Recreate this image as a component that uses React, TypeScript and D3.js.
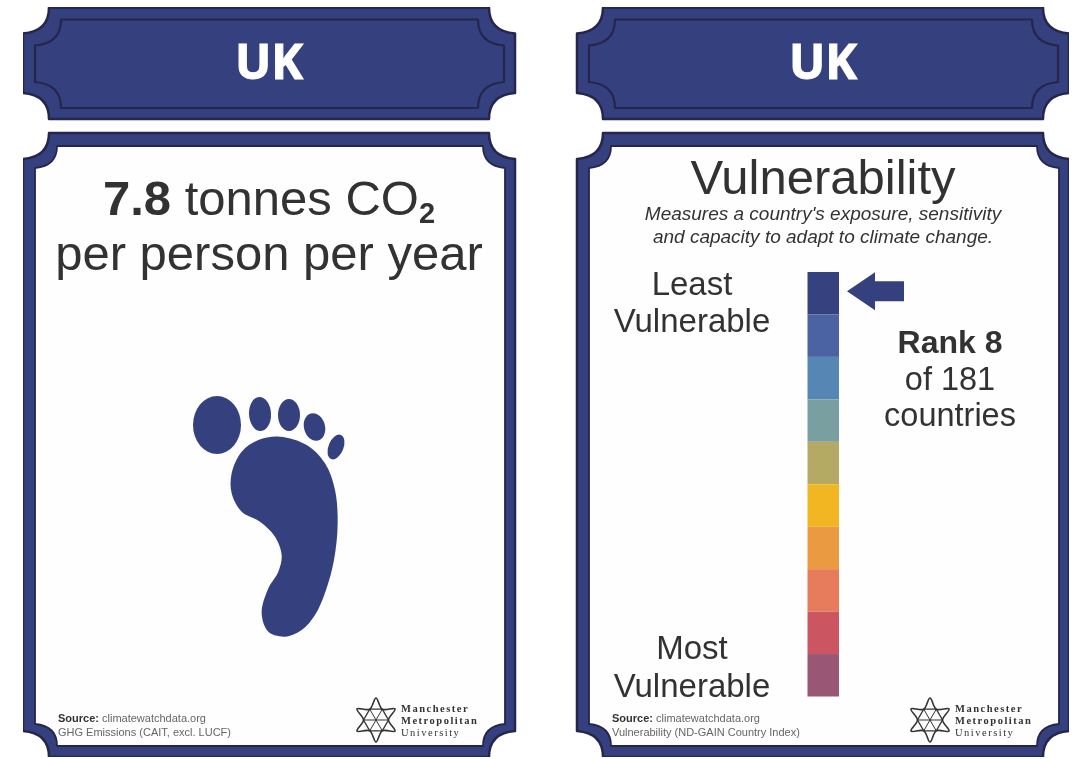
import React from "react";
import * as d3 from "d3";

const NAVY = "#36417f";
const DARK = "#25254d";
const TEXT = "#333333";

const country = "UK";
const footprintValue = "7.8";
const segments = ["#36437f", "#4c62a3", "#5787b4", "#7a9fa1", "#b5aa64", "#f2b620", "#ea9a3f", "#e77b5b", "#cc5562", "#995675"];
const rankLabel = "Rank 8";
const rankIndex = 0;
const cards = [
  { x: 0, lines: ["Source:", " climatewatchdata.org", "GHG Emissions (CAIT, excl. LUCF)"] },
  { x: 554, lines: ["Source:", " climatewatchdata.org", "Vulnerability (ND-GAIN Country Index)"] },
];
const footOutline: [number, number][] = [
  [330, 170], [410, 195], [465, 250], [495, 330], [503, 430], [492, 540], [468, 630], [435, 705], [395, 750], [345, 770],
  [295, 755], [275, 700], [295, 625], [325, 575], [335, 525], [315, 470], [270, 425], [215, 395], [185, 340], [185, 280], [215, 215], [265, 180],
];
const toes = [
  { cx: 217, cy: 425, rx: 24, ry: 29, a: 0 },
  { cx: 260, cy: 414, rx: 11, ry: 17, a: -3 },
  { cx: 289, cy: 415, rx: 11, ry: 16, a: 0 },
  { cx: 314.5, cy: 427, rx: 10.5, ry: 14, a: -15 },
  { cx: 336, cy: 447, rx: 7.5, ry: 13, a: 22 },
];

const footX = d3.scaleLinear().domain([0, 570]).range([170, 360]);
const footY = d3.scaleLinear().domain([0, 810]).range([380, 650]);
const footPath = d3.line<[number, number]>().x(d => footX(d[0])).y(d => footY(d[1])).curve(d3.curveCatmullRomClosed.alpha(0.5))(footOutline) || "";

const barY = d3.scaleBand<number>().domain(d3.range(segments.length)).range([272, 696.5]);

function plaque(x0: number, y0: number, x1: number, y1: number, c: number) {
  const k = 2;
  return `M${x0 + c},${y0} L${x1 - c},${y0} Q${x1 - c},${y0 + c - k} ${x1},${y0 + c} L${x1},${y1 - c} Q${x1 - c},${y1 - c + k} ${x1 - c},${y1} L${x0 + c},${y1} Q${x0 + c},${y1 - c + k} ${x0},${y1 - c} L${x0},${y0 + c} Q${x0 + c},${y0 + c - k} ${x0 + c},${y0} Z`;
}

function Logo({ x, y }: { x: number; y: number }) {
  const star = d3.lineRadial<number>()
    .angle((_, i) => (i * Math.PI) / 6)
    .radius((_, i) => (i % 2 === 0 ? 22 : 12.5))
    .curve(d3.curveCatmullRomClosed.alpha(0.5));
  const inner = d3.lineRadial<number>()
    .angle((_, i) => (i * Math.PI) / 3 + Math.PI / 6)
    .radius(() => 12.5)
    .curve(d3.curveLinearClosed);
  const spokes = d3.range(6).map(i => (i * Math.PI) / 3);
  return (
    <g transform={`translate(${x},${y})`}>
      <path d={star(d3.range(12)) || ""} fill="none" stroke="#333" strokeWidth={1.6} />
      <path d={inner(d3.range(6)) || ""} fill="none" stroke="#333" strokeWidth={1.3} />
      {spokes.map((a, i) => (
        <line key={i} x1={0} y1={0} x2={12.5 * Math.sin(a + Math.PI / 6)} y2={-12.5 * Math.cos(a + Math.PI / 6)} stroke="#333" strokeWidth={1} />
      ))}
      <text x={25} y={-8} fontSize={10.5} letterSpacing={1.5} fontWeight={700} fontFamily="Liberation Serif" fill="#333">Manchester</text>
      <text x={25} y={4} fontSize={10.5} letterSpacing={1.5} fontWeight={700} fontFamily="Liberation Serif" fill="#333">Metropolitan</text>
      <text x={25} y={16} fontSize={10.5} letterSpacing={1.5} fontFamily="Liberation Serif" fill="#333">University</text>
    </g>
  );
}

function Card({ x, lines }: { x: number; lines: string[] }) {
  return (
    <g transform={`translate(${x},0)`}>
      <path d={plaque(23, 7.5, 515, 119, 26)} fill={NAVY} stroke={DARK} strokeWidth={2.5} strokeLinejoin="round" />
      <path d={plaque(35, 19.5, 504, 108, 26)} fill={NAVY} stroke={DARK} strokeWidth={2.2} strokeLinejoin="round" />
      <text x={269} y={78.5} textAnchor="middle" fontSize={48} fontWeight={700} fill="#ffffff" stroke="#ffffff" strokeWidth={1} fontFamily="Open Sans, Liberation Sans">{country}</text>
      <path d={plaque(23, 133, 515, 757, 26)} fill={NAVY} stroke={DARK} strokeWidth={2.5} strokeLinejoin="round" />
      <path d={plaque(35, 146, 505, 746, 22)} fill="#fefefe" stroke={DARK} strokeWidth={1.8} strokeLinejoin="round" />
      <text x={58} y={722} fontSize={11} fill="#666">
        <tspan fontWeight={700} fill="#333">{lines[0]}</tspan>{lines[1]}
      </text>
      <text x={58} y={736} fontSize={11} fill="#666">{lines[2]}</text>
      <Logo x={376} y={720} />
    </g>
  );
}

export default function App() {
  return (
    <svg width={1074} height={759} style={{ position: "absolute", left: 0, top: 0, background: "#fff" }} fontFamily="Liberation Sans, Arial, sans-serif">
      <defs>
        <filter id="soft" x="0" y="0" width="100%" height="100%">
          <feGaussianBlur stdDeviation={0.5} />
        </filter>
      </defs>
      <rect width={1074} height={759} fill="#fff" />
      <g filter="url(#soft)">
      {cards.map(c => <Card key={c.x} x={c.x} lines={c.lines} />)}

      <text x={269} y={215} textAnchor="middle" fontSize={49} fill={TEXT}>
        <tspan fontWeight={700}>{footprintValue}</tspan> tonnes CO<tspan fontSize={29} dy={8} fontWeight={700}>2</tspan>
      </text>
      <text x={269} y={270} textAnchor="middle" fontSize={49} fill={TEXT}>per person per year</text>
      <path d={footPath} fill={NAVY} />
      {toes.map((t, i) => (
        <ellipse key={i} cx={t.cx} cy={t.cy} rx={t.rx} ry={t.ry} fill={NAVY} transform={`rotate(${t.a} ${t.cx} ${t.cy})`} />
      ))}

      <text x={823} y={194} textAnchor="middle" fontSize={49} fill={TEXT}>Vulnerability</text>
      <text x={823} y={220} textAnchor="middle" fontSize={19} fontStyle="italic" fill={TEXT}>Measures a country's exposure, sensitivity</text>
      <text x={823} y={243} textAnchor="middle" fontSize={19} fontStyle="italic" fill={TEXT}>and capacity to adapt to climate change.</text>

      {segments.map((c, i) => (
        <rect key={i} x={807.5} y={barY(i)} width={31.5} height={barY.bandwidth()} fill={c} />
      ))}
      {(() => {
        const my = barY(rankIndex)! + barY.bandwidth() / 2 - 2;
        const pts: [number, number][] = [[847, my], [875, my - 19], [875, my - 10], [904, my - 10], [904, my + 10], [875, my + 10], [875, my + 19]];
        return <path d={d3.line().curve(d3.curveLinearClosed)(pts) || ""} fill={NAVY} />;
      })()}

      <text x={692} y={295} textAnchor="middle" fontSize={33} fill={TEXT}>Least</text>
      <text x={692} y={332} textAnchor="middle" fontSize={33} fill={TEXT}>Vulnerable</text>
      <text x={692} y={659} textAnchor="middle" fontSize={33} fill={TEXT}>Most</text>
      <text x={692} y={697} textAnchor="middle" fontSize={33} fill={TEXT}>Vulnerable</text>

      <text x={950} y={353} textAnchor="middle" fontSize={32} fontWeight={700} fill={TEXT}>{rankLabel}</text>
      <text x={950} y={390} textAnchor="middle" fontSize={32.5} fill={TEXT}>of 181</text>
      <text x={950} y={426} textAnchor="middle" fontSize={32.5} fill={TEXT}>countries</text>
      </g>
    </svg>
  );
}
